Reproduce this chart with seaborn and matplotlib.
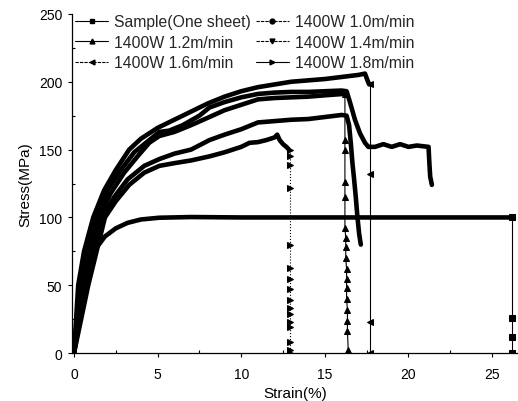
import matplotlib
matplotlib.use("Agg")
import matplotlib.pyplot as plt
import seaborn as sns
from matplotlib.lines import Line2D
from matplotlib.ticker import MultipleLocator

# ---- data ----
labels = ["Sample(One sheet)", "1400W 1.0m/min", "1400W 1.2m/min",
          "1400W 1.4m/min", "1400W 1.6m/min", "1400W 1.8m/min"]
markers = ["s", "o", "^", "v", "<", ">"]

# main (dense) parts of the curves
sample_x = [0, 0.2, 0.45, 0.8, 1.3, 1.85, 2.5, 3.2, 4, 5.1, 7, 10, 26.2]
sample_y = [0, 20, 45, 62, 77, 86, 92, 96, 98.5, 99.8, 100.3, 100, 100]

w10_x = [0, 0.35, 0.75, 1.3, 2, 2.8, 3.6, 4.5, 5.1, 5.7, 6.5, 7.5, 8.1, 9, 10, 11, 12, 13, 14, 15, 16, 16.3,
         16.5, 16.8, 17.1, 17.4, 17.6, 18, 18.5, 19, 19.5, 20, 20.5, 21.2, 21.25, 21.3, 21.4]
w10_y = [0, 50, 75, 100, 120, 135, 148, 157, 163, 164, 168, 175, 181, 185, 188.5, 191, 192, 192.5, 192.5, 193, 193.5, 193,
         185, 172, 162, 155, 152, 152, 154, 152, 154, 152, 153, 152, 140, 130, 124]

w12_x = [0, 0.55, 1.0, 1.5, 2.2, 3, 3.8, 4.5, 5.1, 6, 7, 8.1, 9, 10, 11, 12, 13, 14, 15, 16.1]
w12_y = [0, 50, 75, 100, 118, 133, 145, 155, 160, 163, 168, 174, 179, 183, 187, 188, 188.5, 189, 190, 191]

w14_x = [0, 0.7, 1.2, 1.7, 2.4, 3.2, 4.2, 5.1, 6, 7, 8.1, 9, 10, 11, 12, 13, 14, 15, 16, 16.3,
         16.45, 16.55, 16.65, 16.75, 16.85, 16.95, 17.05, 17.15]
w14_y = [0, 50, 75, 100, 115, 128, 138, 143, 147, 150, 157, 161, 165, 170, 171, 172, 172.5, 174, 175.5, 175,
         168, 155, 140, 128, 115, 100, 88, 80]

w16_x = [0, 0.25, 0.6, 1.15, 1.8, 2.5, 3.3, 4, 5, 6, 7, 8, 9, 10, 11, 12, 13, 14, 15, 16, 17, 17.4, 17.55, 17.65]
w16_y = [0, 50, 75, 100, 120, 135, 150, 158, 166, 172, 178, 184, 189, 193, 196, 198, 200, 201, 202, 203.5, 205, 206, 201, 198]

w18_x = [0, 0.85, 1.35, 1.85, 2.5, 3.3, 4.2, 5.1, 6, 7, 8.1, 9, 10, 10.5, 11, 11.5, 12, 12.15, 12.3, 12.5, 12.7, 12.85]
w18_y = [0, 50, 75, 100, 112, 124, 133, 138, 140, 142, 145, 148, 152, 155, 155.5, 157, 159, 161, 157, 154, 152, 150]

# fracture (sparse) parts
sample_drop_x = [26.2, 26.2, 26.2, 26.2]
sample_drop_y = [100, 26, 12, 0]
w12_drop_x = [16.2, 16.2, 16.2, 16.2, 16.2, 16.2, 16.25, 16.25, 16.25, 16.3, 16.3, 16.3, 16.3, 16.35, 16.35, 16.35, 16.4]
w12_drop_y = [191, 157, 150, 126, 115, 92, 85, 78, 70, 62, 55, 48, 40, 32, 24, 16, 2]
w16_drop_x = [17.7, 17.7, 17.7, 17.7]
w16_drop_y = [198, 132, 23, 0]
w18_drop_x = [12.9] * 16
w18_drop_y = [150, 145, 139, 122, 80, 63, 55, 47, 39, 33, 29, 23, 19, 8, 2, 0]

# ---- plotting ----
sns.set_theme(style="ticks")
plt.rcParams["font.family"] = ["Liberation Sans", "DejaVu Sans"]

fig = plt.figure(figsize=(5.18, 4.02), dpi=100)
ax = fig.add_axes([0.139, 0.119, 0.861, 0.844])

main = [(sample_x, sample_y), (w10_x, w10_y), (w12_x, w12_y),
        (w14_x, w14_y), (w16_x, w16_y), (w18_x, w18_y)]
for xs, ys in main:
    sns.lineplot(x=xs, y=ys, sort=False, estimator=None, ax=ax, color="black",
                 lw=3.3, solid_capstyle="round", solid_joinstyle="round")

drops = [(sample_drop_x, sample_drop_y, "s", "-"), (w12_drop_x, w12_drop_y, "^", "-"),
         (w16_drop_x, w16_drop_y, "<", "-"), (w18_drop_x, w18_drop_y, ">", ":")]
for xs, ys, m, ls in drops:
    sns.lineplot(x=xs, y=ys, sort=False, estimator=None, ax=ax, color="black",
                 lw=0.8, ls=ls, marker=m, markersize=4, markeredgecolor="black")

ax.set_xlim(-0.12, 26.55)
ax.set_ylim(0, 250)
ax.xaxis.set_major_locator(MultipleLocator(5))
ax.xaxis.set_minor_locator(MultipleLocator(2.5))
ax.yaxis.set_major_locator(MultipleLocator(50))
ax.yaxis.set_minor_locator(MultipleLocator(25))
ax.tick_params(axis="both", which="major", direction="out", length=3, width=0.8,
               labelsize=10, color="black", labelcolor="black")
ax.tick_params(axis="both", which="minor", direction="in", length=2.5, width=0.8, color="black")
ax.tick_params(axis="x", which="major", pad=7)
ax.tick_params(axis="y", which="major", pad=4)
for s in ["top", "right"]:
    ax.spines[s].set_visible(False)
for s in ["left", "bottom"]:
    ax.spines[s].set_color("black")
    ax.spines[s].set_linewidth(0.9)

ax.set_xlabel("Strain(%)", fontsize=11, color="black", labelpad=3.5)
ax.set_ylabel("Stress(MPa)", fontsize=11, color="black", labelpad=5)

lss = ["-", (0, (3, 1)), "-", (0, (3, 1)), (0, (3, 1)), "-"]
handles = [Line2D([], [], color="black", lw=0.8, ls=ls, marker=m, markersize=3.5)
           for m, ls in zip(markers, lss)]
order = [0, 2, 4, 1, 3, 5]
fig.legend([handles[i] for i in order], [labels[i] for i in order], ncol=2,
           loc="upper left", bbox_to_anchor=(0.145, 0.962), frameon=False,
           fontsize=11.3, handlelength=2.1, handletextpad=0.4, columnspacing=0.3,
           labelspacing=0.35, borderpad=0, borderaxespad=0)

fig.savefig("out.png", dpi=100)
